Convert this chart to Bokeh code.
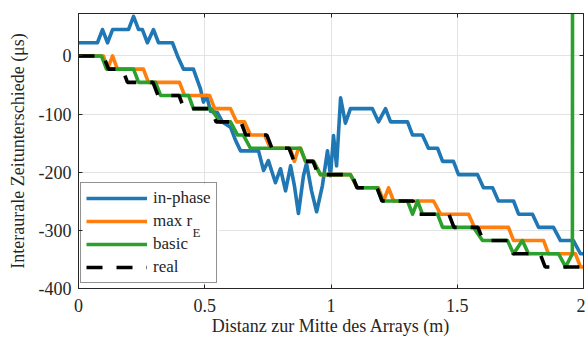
from bokeh.plotting import figure
from bokeh.models import (Range1d, LinearAxis, FixedTicker, Legend, LegendItem,
                          Label, NumeralTickFormatter, BoxAnnotation)
from bokeh.embed import file_html
from bokeh.resources import INLINE

# ---------------- data (x in m, ITD in microseconds) ----------------
x_inphase = [0.0, 0.075, 0.095, 0.115, 0.135, 0.198, 0.218, 0.238, 0.253, 0.273, 0.297, 0.317,
             0.372, 0.392, 0.416, 0.455, 0.483, 0.495, 0.507, 0.523, 0.550, 0.570, 0.602, 0.622,
             0.642, 0.713, 0.733, 0.752, 0.780, 0.800, 0.820, 0.840, 0.855, 0.871, 0.891, 0.903,
             0.923, 0.943, 0.966, 0.986, 0.998, 1.010, 1.022, 1.038, 1.057, 1.077, 1.164, 1.188,
             1.216, 1.236, 1.303, 1.323, 1.362, 1.386, 1.422, 1.442, 1.485, 1.505, 1.580, 1.604,
             1.640, 1.663, 1.723, 1.743, 1.798, 1.822, 1.881, 1.909, 1.960, 1.988, 2.0]
y_inphase = [22.7, 22.7, 45.4, 22.7, 45.4, 45.4, 68.0, 45.4, 45.4, 22.7, 45.4, 22.7,
             22.7, 0.0, -22.7, -22.7, -56.7, -79.4, -68.0, -95.3, -97.5, -113.4, -122.5, -145.2,
             -163.3, -163.3, -197, -180, -218, -194, -232, -189, -223, -271, -206, -185,
             -232, -268, -223, -163, -206, -137, -189, -72, -115.7, -90.7, -90.7, -113.4,
             -90.7, -113.4, -113.4, -136.1, -136.1, -158.8, -158.8, -181.4, -181.4, -204.1, -204.1, -226.8,
             -226.8, -249.5, -249.5, -272.2, -272.2, -294.8, -294.8, -317.5, -317.5, -340.2, -340.2]

x_maxre = [0.0, 0.099, 0.115, 0.135, 0.154, 0.257, 0.277, 0.4, 0.42, 0.519, 0.539, 0.602, 0.626,
           0.657, 0.681, 0.737, 0.76, 0.838, 0.855, 0.871, 0.879, 0.899, 0.931, 0.958, 1.077,
           1.105, 1.188, 1.208, 1.228, 1.248, 1.406, 1.434, 1.545, 1.568, 1.703, 1.723, 1.842,
           1.861, 1.968, 1.988, 2.0]
y_maxre = [0.0, 0.0, -22.7, 0.0, -22.7, -22.7, -45.4, -45.4, -68.0, -68.0, -90.7, -90.7, -113.4,
           -113.4, -136.1, -136.1, -158.8, -158.8, -181.4, -158.8, -158.8, -181.4, -181.4, -204.1, -204.1,
           -226.8, -226.8, -249.5, -226.8, -249.5, -249.5, -272.2, -272.2, -294.8, -294.8, -317.5, -317.5,
           -340.2, -340.2, -362.9, -362.9]

x_basic = [0.0, 0.091, 0.111, 0.218, 0.238, 0.305, 0.325, 0.436, 0.455, 0.525, 0.56, 0.602, 0.63,
           0.653, 0.681, 0.879, 0.899, 0.931, 0.958, 1.077, 1.105, 1.184, 1.204, 1.303, 1.323,
           1.343, 1.362, 1.422, 1.442, 1.564, 1.6, 1.699, 1.723, 1.758, 1.782, 1.901, 1.929,
           1.956, 1.962, 2.0]
y_basic = [0.0, 0.0, -22.7, -22.7, -45.4, -45.4, -68.0, -68.0, -90.7, -90.7, -113.4, -113.4, -136.1,
           -136.1, -158.8, -158.8, -181.4, -181.4, -204.1, -204.1, -226.8, -226.8, -249.5, -249.5, -272.2,
           -249.5, -272.2, -272.2, -294.8, -294.8, -317.5, -317.5, -340.2, -317.5, -340.2, -340.2, -362.9,
           -340.2, 5000.0, 5000.0]

x_real = [0.0, 0.099, 0.119, 0.174, 0.194, 0.295, 0.315, 0.398, 0.418, 0.525, 0.545, 0.643, 0.663,
          0.746, 0.766, 0.834, 0.854, 0.929, 0.949, 1.083, 1.103, 1.182, 1.202, 1.325, 1.345,
          1.467, 1.487, 1.582, 1.602, 1.701, 1.721, 1.828, 1.848, 2.0]
y_real = [0.0, 0.0, -22.7, -22.7, -45.4, -45.4, -68.0, -68.0, -90.7, -90.7, -113.4, -113.4, -136.1,
          -136.1, -158.8, -158.8, -181.4, -181.4, -204.1, -204.1, -226.8, -226.8, -249.5, -249.5, -272.2,
          -272.2, -294.8, -294.8, -317.5, -317.5, -340.2, -340.2, -362.9, -362.9]

x_ticks = [0, 0.5, 1, 1.5, 2]
y_ticks = [-400, -300, -200, -100, 0]
series_labels = ["in-phase", "max r", "basic", "real"]
x_label = "Distanz zur Mitte des Arrays (m)"
y_label = "Interaurale Zeitunterschiede (μs)"

# ---------------- styling ----------------
FONT = "Liberation Serif"
AXC = "#262626"
GRID = "#e3e3e3"
LW = 3.6

p = figure(width=585, height=338, output_backend="svg", toolbar_location=None,
           x_range=Range1d(0, 2), y_range=Range1d(-400, 73),
           min_border_left=78, min_border_right=2, min_border_top=13, min_border_bottom=50,
           background_fill_color="white", border_fill_color="white")
p.outline_line_color = AXC
p.outline_line_width = 1

xa = p.below[0]
ya = p.left[0]
for ax, ticks in ((xa, x_ticks), (ya, y_ticks)):
    ax.ticker = FixedTicker(ticks=ticks)
    ax.major_tick_in = 4
    ax.major_tick_out = 0
    ax.minor_tick_in = 0
    ax.minor_tick_out = 0
    ax.axis_line_color = AXC
    ax.major_tick_line_color = AXC
    ax.major_label_text_font = FONT
    ax.major_label_text_font_size = "18px"
    ax.major_label_text_color = AXC
    ax.axis_label_text_font = FONT
    ax.axis_label_text_font_size = "18px"
    ax.axis_label_text_font_style = "normal"
    ax.axis_label_text_color = AXC
xa.formatter = NumeralTickFormatter(format="0.[0]")
ya.formatter = NumeralTickFormatter(format="0")
xa.axis_label = x_label
ya.axis_label = y_label
xa.major_label_standoff = 10
xa.axis_label_standoff = 1
ya.major_label_standoff = 7
ya.axis_label_standoff = 8

for loc, ticks in (("above", x_ticks), ("right", y_ticks)):
    ax = LinearAxis(ticker=FixedTicker(ticks=ticks), major_tick_in=4, major_tick_out=0,
                    minor_tick_in=0, minor_tick_out=0, major_label_text_font_size="1px",
                    major_label_text_color=None, major_label_standoff=0,
                    axis_line_color=AXC, major_tick_line_color=AXC)
    p.add_layout(ax, loc)

p.xgrid.grid_line_color = GRID
p.ygrid.grid_line_color = GRID
p.xgrid.grid_line_width = 1
p.ygrid.grid_line_width = 1

# white background behind the legend (screen units relative to the frame)
p.add_layout(BoxAnnotation(left=2, right=140, bottom=5, top=104,
                           left_units="screen", right_units="screen",
                           bottom_units="screen", top_units="screen",
                           fill_color="white", fill_alpha=1.0, line_color=None,
                           level="underlay"))

r1 = p.line(x_inphase, y_inphase, line_color="#1f77b4", line_width=LW, line_join="round")
r2 = p.line(x_maxre, y_maxre, line_color="#ff7f0e", line_width=LW, line_join="round")
r3 = p.line(x_basic, y_basic, line_color="#2ca02c", line_width=LW, line_join="round")
r4 = p.line(x_real, y_real, line_color="black", line_width=LW, line_dash="16 14")

legend = Legend(items=[LegendItem(label=series_labels[0], renderers=[r1]),
                       LegendItem(label=series_labels[1], renderers=[r2]),
                       LegendItem(label=series_labels[2], renderers=[r3]),
                       LegendItem(label=series_labels[3], renderers=[r4])],
                location=(2, 5), margin=0, padding=5, spacing=3,
                glyph_width=61, glyph_height=20, label_height=20, label_standoff=6,
                label_text_font=FONT, label_text_font_size="17px", label_text_color=AXC,
                border_line_color=AXC, border_line_width=1, background_fill_alpha=0.0)
p.add_layout(legend)

# subscript "E" of "max r_E" in the legend (screen units, relative to the frame)
sub = Label(x=114, y=56, x_units="screen", y_units="screen", text="E",
            text_font=FONT, text_font_size="13px", text_color=AXC,
            text_baseline="alphabetic", text_align="left", level="overlay")
p.add_layout(sub)

open("out.html", "w").write(file_html(p, INLINE))
